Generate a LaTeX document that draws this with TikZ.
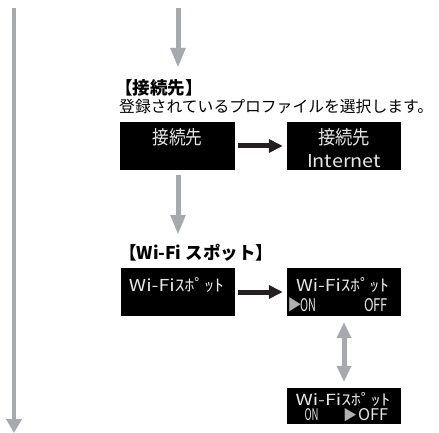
\documentclass[tikz,border=0pt]{standalone}
\usepackage{fontspec}
\setmainfont{Noto Sans CJK JP}
\usepackage{graphicx}
\usetikzlibrary{arrows.meta}
\definecolor{flowgray}{HTML}{A7A9AC}
\definecolor{arrowblack}{HTML}{231F20}
\definecolor{cursorgray}{HTML}{B0B0B0}
\definecolor{lcdwhite}{HTML}{E6E6E6}
\newcommand{\lcdfit}[3]{\resizebox{#1pt}{#2pt}{#3}}
\begin{document}
\begin{tikzpicture}[x=1pt,y=-1pt,
  lcdbox/.style={fill=black, draw=none, inner sep=0pt},
  lcdtext/.style={text=lcdwhite, inner sep=0pt, anchor=center},
  cursor/.style={text=cursorgray, inner sep=0pt, anchor=center},
  flowarrow/.style={draw=flowgray, line width=5pt, -{Triangle[width=14pt,length=20pt]}},
  bothflow/.style={draw=flowgray, line width=5pt, {Triangle[width=14pt,length=16pt]}-{Triangle[width=14pt,length=16pt]}},
  nextarrow/.style={draw=arrowblack, line width=5pt, -{Triangle[width=13pt,length=14pt]}, shorten <=3pt, shorten >=4pt},
  heading/.style={anchor=west, inner sep=0pt, font=\bfseries\fontsize{17.5pt}{19pt}\selectfont},
  bodytext/.style={anchor=west, inner sep=0pt, font=\fontsize{15.8pt}{17pt}\selectfont}
]
\useasboundingbox (0,0) rectangle (439,433);

% long left arrow
\coordinate (lefttop) at (14,8);
\coordinate (leftbot) at (14,433);
\draw[draw=flowgray, line width=4pt, -{Triangle[width=15pt,length=14pt]}] (lefttop) -- (leftbot);

% top arrow
\coordinate (topstart) at (178,8);
\coordinate (topend) at (178,68);
\draw[flowarrow] (topstart) -- (topend);

% headings
\node[heading] (t1) at (115,88) {【接続先】};
\node[bodytext] (d1) at (119,107) {登録されているプロファイルを選択します。};

% boxes row 1
\node[lcdbox, minimum width=115pt, minimum height=48pt] (b1) at (177.5,146) {};
\node[lcdbox, minimum width=114pt, minimum height=48pt] (b2) at (344,146) {};
\node[lcdtext] (b1a) at (177.5,137) {\lcdfit{50}{16}{接続先}};
\node[lcdtext] (b2a) at (344,137) {\lcdfit{52}{16}{接続先}};
\node[lcdtext] (b2b) at (344,161) {\lcdfit{74}{13}{Internet}};
\draw[nextarrow] (b1) -- (b2);

% second gray arrow
\coordinate (midstart) at (178,175);
\coordinate (midend) at (178,235);
\draw[flowarrow] (midstart) -- (midend);

\node[heading] (t2) at (119,253) {【Wi-Fi スポット】};

% boxes row 2
\node[lcdbox, minimum width=114pt, minimum height=48pt] (b3) at (178,292) {};
\node[lcdbox, minimum width=114pt, minimum height=48pt] (b4) at (344,292) {};
\node[lcdtext] (b3a) at (176.5,285) {\lcdfit{95}{14}{Wi-Fiｽﾎﾟｯﾄ}};
\node[lcdtext] (b4a) at (342.5,285) {\lcdfit{93}{14}{Wi-Fiｽﾎﾟｯﾄ}};
\node[cursor] (b4c) at (294.5,305) {\lcdfit{14}{13}{▶}};
\node[lcdtext] (b4b) at (308,305) {\lcdfit{16}{13}{ON}};
\node[lcdtext] (b4d) at (376,305) {\lcdfit{24}{13}{OFF}};
\draw[nextarrow] (b3) -- (b4);

% box row 3
\node[lcdbox, minimum width=114pt, minimum height=36pt] (b5) at (344,406) {};
\node[lcdtext] (b5a) at (343,399) {\lcdfit{95}{13}{Wi-Fiｽﾎﾟｯﾄ}};
\node[lcdtext] (b5b) at (311.5,415) {\lcdfit{14}{12}{ON}};
\node[cursor] (b5c) at (350,415) {\lcdfit{14}{12}{▶}};
\node[lcdtext] (b5d) at (373,415) {\lcdfit{30}{12}{OFF}};

\draw[bothflow, shorten <=6pt, shorten >=6pt] (b4) -- (b5);
\end{tikzpicture}
\end{document}
